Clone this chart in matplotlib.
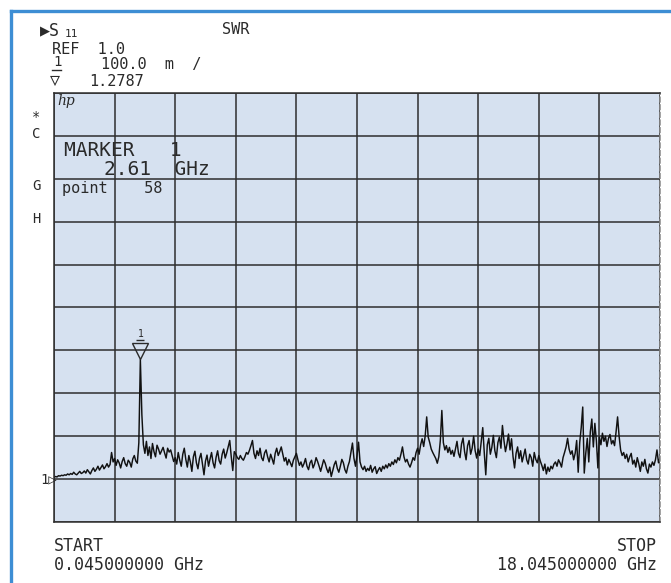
import numpy as np
import matplotlib
matplotlib.use("Agg")
import matplotlib.pyplot as plt
from matplotlib.lines import Line2D
from matplotlib import transforms

# HP network analyzer sweep: 401 points, 0.045 -> 18.045 GHz
start_ghz = 0.045
stop_ghz = 18.045
n_points = 401
ref_level = 1.0
scale_div = 0.1
marker_ghz = 2.61
marker_val = 1.2787

swr = [
    1.004, 1.006, 1.005, 1.008, 1.007, 1.009, 1.008, 1.010, 1.009, 1.012, 1.010, 1.013, 1.011, 1.016, 1.012, 1.010, 1.014, 1.018, 1.013, 1.015,
    1.019, 1.014, 1.022, 1.017, 1.012, 1.020, 1.026, 1.018, 1.023, 1.030, 1.021, 1.027, 1.033, 1.024, 1.029, 1.036, 1.028, 1.034, 1.062, 1.040,
    1.048, 1.032, 1.045, 1.038, 1.026, 1.041, 1.050, 1.036, 1.030, 1.044, 1.039, 1.028, 1.047, 1.055, 1.042, 1.037, 1.085, 1.2787, 1.150, 1.080,
    1.060, 1.088, 1.055, 1.075, 1.048, 1.083, 1.064, 1.052, 1.079, 1.070, 1.058, 1.066, 1.074, 1.061, 1.049, 1.072, 1.063, 1.068, 1.054, 1.041,
    1.050, 1.035, 1.062, 1.044, 1.030, 1.058, 1.072, 1.046, 1.028, 1.055, 1.040, 1.018, 1.052, 1.065, 1.038, 1.024, 1.048, 1.060, 1.035, 1.010,
    1.042, 1.056, 1.030, 1.047, 1.062, 1.038, 1.026, 1.051, 1.066, 1.043, 1.035, 1.058, 1.070, 1.049, 1.061, 1.075, 1.090, 1.052, 1.020, 1.064,
    1.058, 1.050, 1.046, 1.055, 1.048, 1.044, 1.052, 1.062, 1.058, 1.067, 1.078, 1.090, 1.060, 1.048, 1.066, 1.055, 1.072, 1.050, 1.043, 1.061,
    1.068, 1.052, 1.040, 1.058, 1.047, 1.035, 1.060, 1.072, 1.055, 1.064, 1.075, 1.058, 1.042, 1.050, 1.033, 1.046, 1.038, 1.029, 1.044, 1.052,
    1.060, 1.045, 1.032, 1.040, 1.028, 1.036, 1.048, 1.030, 1.022, 1.038, 1.044, 1.026, 1.035, 1.050, 1.041, 1.030, 1.018, 1.032, 1.045, 1.037,
    1.024, 1.015, 1.028, 1.006, 1.020, 1.034, 1.042, 1.025, 1.016, 1.030, 1.046, 1.038, 1.022, 1.014, 1.030, 1.041, 1.062, 1.084, 1.048, 1.030,
    1.055, 1.086, 1.040, 1.028, 1.022, 1.030, 1.018, 1.025, 1.020, 1.032, 1.016, 1.024, 1.029, 1.013, 1.021, 1.027, 1.018, 1.030, 1.024, 1.033,
    1.026, 1.036, 1.030, 1.040, 1.034, 1.045, 1.038, 1.050, 1.044, 1.058, 1.075, 1.052, 1.040, 1.046, 1.035, 1.028, 1.038, 1.050, 1.044, 1.062,
    1.072, 1.058, 1.080, 1.094, 1.076, 1.100, 1.145, 1.098, 1.085, 1.070, 1.062, 1.055, 1.048, 1.037, 1.052, 1.090, 1.160, 1.085, 1.068, 1.078,
    1.062, 1.074, 1.058, 1.067, 1.053, 1.070, 1.088, 1.060, 1.050, 1.082, 1.096, 1.064, 1.045, 1.078, 1.090, 1.058, 1.072, 1.100, 1.066, 1.049,
    1.070, 1.055, 1.088, 1.120, 1.062, 1.010, 1.080, 1.095, 1.058, 1.074, 1.102, 1.066, 1.050, 1.085, 1.098, 1.072, 1.125, 1.090, 1.064, 1.082,
    1.105, 1.068, 1.094, 1.052, 1.026, 1.060, 1.075, 1.048, 1.066, 1.040, 1.055, 1.070, 1.045, 1.035, 1.058, 1.050, 1.030, 1.062, 1.046, 1.038,
    1.055, 1.042, 1.032, 1.020, 1.035, 1.012, 1.028, 1.018, 1.030, 1.024, 1.035, 1.040, 1.030, 1.045, 1.038, 1.028, 1.050, 1.062, 1.075, 1.095,
    1.070, 1.058, 1.066, 1.045, 1.060, 1.090, 1.016, 1.085, 1.120, 1.168, 1.014, 1.060, 1.095, 1.040, 1.110, 1.140, 1.075, 1.130, 1.090, 1.026,
    1.098, 1.080, 1.107, 1.088, 1.100, 1.076, 1.095, 1.104, 1.082, 1.090, 1.078, 1.110, 1.145, 1.100, 1.068, 1.055, 1.062, 1.048, 1.058, 1.040,
    1.052, 1.060, 1.035, 1.044, 1.028, 1.050, 1.036, 1.018, 1.040, 1.030, 1.046, 1.024, 1.014, 1.035, 1.028, 1.040, 1.032, 1.045, 1.068, 1.038,
    1.050,
]

freq = np.linspace(start_ghz, stop_ghz, n_points)

W, H = 671, 583
fig = plt.figure(figsize=(W / 100, H / 100), dpi=100)
fig.patch.set_facecolor("white")

def fx(px):
    return px / W

def fy(py):
    return 1 - py / H

mono = ["DejaVu Sans Mono", "DejaVu Sans"]
ink = "#2a2a2a"

# pantalla del analizador
ax = fig.add_axes([fx(54), fy(522), fx(660) - fx(54), fy(93) - fy(522)])
ax.set_facecolor("#d6e1f0")
ax.set_xlim(start_ghz, stop_ghz)
ax.set_ylim(ref_level - scale_div, ref_level + 9 * scale_div)
ax.set_xticks(np.linspace(start_ghz, stop_ghz, 11))
ax.set_yticks(np.linspace(ref_level - scale_div, ref_level + 9 * scale_div, 11))
ax.tick_params(length=0, labelbottom=False, labelleft=False)
ax.grid(True, color="#2e2e2e", linewidth=1.1)
for s in ax.spines.values():
    s.set_color("#2e2e2e")
    s.set_linewidth(1.1)
ax.spines["right"].set_color("#888888")
ax.spines["right"].set_linestyle((0, (3, 2)))

ax.plot(freq, swr, color="#111111", linewidth=1.05)

# marcador 1
shift = transforms.offset_copy(ax.transData, fig=fig, x=0, y=6, units="points")
ax.plot([marker_ghz], [marker_val], marker="v", markersize=11, mfc="none",
        mec=ink, mew=1.0, transform=shift)
ax.annotate("1", xy=(marker_ghz, marker_val), xytext=(0, 18.5), textcoords="offset points",
            ha="center", va="center", fontsize=7, family=mono, color=ink)
shift_u = transforms.offset_copy(ax.transData, fig=fig, x=0, y=14, units="points")
ax.plot([marker_ghz], [marker_val], marker="_", markersize=6, mec=ink, mew=1.0,
        transform=shift_u)

# nivel de referencia
ax.annotate("1\u25b7", xy=(start_ghz, ref_level), xytext=(2, 0), textcoords="offset points",
            ha="right", va="center", fontsize=10, family=mono, color=ink,
            annotation_clip=False)

# encabezado
fig.text(fx(40), fy(30), "\u25b6S", fontsize=12, family=mono, color=ink, va="center")
fig.text(fx(65), fy(34), "11", fontsize=8, family=mono, color=ink, va="center")
fig.text(fx(222), fy(30), "SWR", fontsize=11, family=mono, color=ink, va="center")
fig.text(fx(52), fy(49), "REF  1.0", fontsize=11, family=mono, color=ink, va="center")
fig.text(fx(53), fy(62), "1", fontsize=10, family=mono, color=ink, va="center")
fig.add_artist(Line2D([fx(52), fx(61)], [fy(70), fy(70)], color=ink, linewidth=1.0))
fig.text(fx(101), fy(64), "100.0  m  /", fontsize=11, family=mono, color=ink, va="center")
fig.text(fx(50), fy(80), "\u25bd", fontsize=12, family=mono, color=ink, va="center")
fig.text(fx(89), fy(82), "1.2787", fontsize=11, family=mono, color=ink, va="center")

# letras de estado a la izquierda
for lab, py in [("*", 117), ("C", 134), ("G", 186), ("H", 219)]:
    fig.text(fx(36), fy(py), lab, fontsize=10, family=mono, color=ink, va="center", ha="center")

fig.text(fx(57), fy(101), "hp", fontsize=10, family="DejaVu Serif", style="italic",
         color=ink, va="center")

# lectura del marcador
fig.text(fx(64), fy(151), "MARKER   1", fontsize=14, family=mono, color=ink, va="center")
fig.text(fx(104), fy(169), "2.61  GHz", fontsize=14, family=mono, color=ink, va="center")
fig.text(fx(62), fy(188), "point    58", fontsize=11, family=mono, color=ink, va="center")

# barrido
fig.text(fx(54), fy(546), "START", fontsize=12, family=mono, color=ink, va="center")
fig.text(fx(54), fy(565), "0.045000000 GHz", fontsize=12, family=mono, color=ink, va="center")
fig.text(fx(657), fy(546), "STOP", fontsize=12, family=mono, color=ink, va="center", ha="right")
fig.text(fx(657), fy(565), "18.045000000 GHz", fontsize=12, family=mono, color=ink,
         va="center", ha="right")

# marco azul
blue = "#3d8ed4"
fig.add_artist(Line2D([fx(11), fx(11)], [fy(11), 0], color=blue, linewidth=2.4))
fig.add_artist(Line2D([fx(11), 1], [fy(11), fy(11)], color=blue, linewidth=2.4))

fig.savefig("out.png", dpi=100)
